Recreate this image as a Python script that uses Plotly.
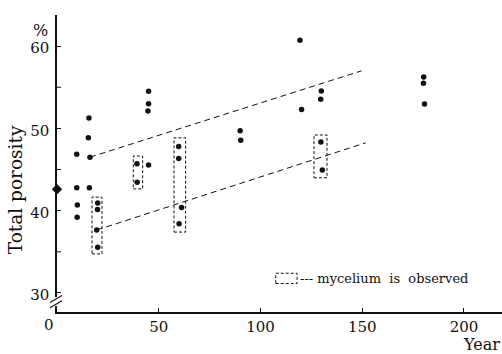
import plotly.graph_objects as go

# ---- data ----
years = [9.7, 9.7, 10.0, 9.9,
         15.7, 15.4, 16.2, 15.9,
         20.0, 19.9, 19.5, 20.0,
         39.3, 39.4,
         45.0, 45.0, 44.7, 45.0,
         59.8, 59.8, 61.2, 60.0,
         90.0, 90.3,
         119.4, 120.2,
         129.9, 129.6, 129.7, 130.4,
         180.2, 180.1, 180.6]
porosity = [46.85, 42.8, 40.7, 39.2,
            51.25, 48.85, 46.5, 42.8,
            40.95, 40.15, 37.65, 35.55,
            45.7, 43.45,
            54.5, 53.0, 52.1, 45.55,
            47.8, 46.35, 40.4, 38.4,
            49.7, 48.55,
            60.7, 52.3,
            54.55, 53.55, 48.35, 44.95,
            56.25, 55.5, 52.95]
origin_year = [0]
origin_porosity = [42.6]

upper_x = [16.2, 149.7]
upper_y = [46.5, 57.0]
lower_x = [19.5, 151.7]
lower_y = [37.65, 48.25]

# mycelium boxes: (x0, x1, y0, y1)
box_x0 = [17.2, 37.5, 57.5, 126.3]
box_x1 = [22.1, 42.1, 63.2, 132.7]
box_y0 = [34.75, 42.65, 37.4, 44.0]
box_y1 = [41.65, 46.65, 48.85, 49.2]

x_ticks = [50, 100, 150, 200]
y_ticks = [30, 40, 50, 60]
y_minor = [35, 45, 55]

FONT = "DejaVu Serif"
INK = "#111111"

fig = go.Figure()
fig.add_trace(go.Scatter(x=upper_x, y=upper_y, mode="lines",
                         line=dict(color=INK, width=1, dash="6px,4px"),
                         showlegend=False, hoverinfo="skip"))
fig.add_trace(go.Scatter(x=lower_x, y=lower_y, mode="lines",
                         line=dict(color=INK, width=1, dash="6px,4px"),
                         showlegend=False, hoverinfo="skip"))
fig.add_trace(go.Scatter(x=years, y=porosity, mode="markers",
                         marker=dict(color=INK, size=5.5),
                         showlegend=False))
fig.add_trace(go.Scatter(x=origin_year, y=origin_porosity, mode="markers",
                         marker=dict(color=INK, size=8, symbol="diamond"),
                         showlegend=False, cliponaxis=False))

shapes = []
for a, b, c, d in zip(box_x0, box_x1, box_y0, box_y1):
    shapes.append(dict(type="rect", xref="x", yref="y", x0=a, x1=b, y0=c, y1=d,
                       line=dict(color=INK, width=1, dash="3px,2px")))
# legend box
shapes.append(dict(type="rect", xref="x", yref="y", x0=107.5, x1=118.0,
                   y0=31.15, y1=32.4,
                   line=dict(color=INK, width=1, dash="3px,2px")))
# minor y ticks (inside)
for v in y_minor:
    shapes.append(dict(type="line", xref="paper", yref="y", x0=0, x1=4/445,
                       y0=v, y1=v, line=dict(color=INK, width=1)))
# axis break: white gap + two slanted strokes
shapes.append(dict(type="rect", xref="paper", yref="y", x0=-3/445, x1=3/445,
                   y0=28.4, y1=29.5, fillcolor="white", line=dict(width=0),
                   layer="above"))
shapes.append(dict(type="line", xref="paper", yref="y", x0=-7/445, x1=5/445,
                   y0=28.2, y1=29.05, line=dict(color=INK, width=1.2)))
shapes.append(dict(type="line", xref="paper", yref="y", x0=-7/445, x1=5/445,
                   y0=28.85, y1=29.7, line=dict(color=INK, width=1.2)))

annotations = [
    dict(text="Total porosity", x=0, y=0.41, xref="paper", yref="paper",
         xanchor="center", yanchor="middle", xshift=-42, textangle=-90,
         showarrow=False, font=dict(family=FONT, size=18.5, color=INK)),
    dict(text="%", x=0, y=1, xref="paper", yref="paper", xanchor="center",
         yanchor="middle", xshift=-17, yshift=-15, showarrow=False,
         font=dict(family=FONT, size=16, color=INK)),
    dict(text="0", x=0, y=0, xref="x", yref="paper", xanchor="center",
         yanchor="top", xshift=-8, yshift=-2, showarrow=False,
         font=dict(family=FONT, size=15, color=INK)),
    dict(text="Year", x=1, y=0, xref="paper", yref="paper", xanchor="right",
         yanchor="top", xshift=0, yshift=-21, showarrow=False,
         font=dict(family=FONT, size=16, color=INK)),
    dict(text="--- mycelium  is  observed", x=118.3, y=31.8, xref="x", yref="y",
         xanchor="left", yanchor="middle", showarrow=False,
         font=dict(family=FONT, size=13, color=INK)),
]

fig.update_layout(
    width=502, height=354, autosize=False,
    margin=dict(l=57, r=0, t=15, b=42),
    paper_bgcolor="white", plot_bgcolor="white",
    font=dict(family=FONT, size=15, color=INK),
    shapes=shapes, annotations=annotations,
    xaxis=dict(range=[0, 218.7], showgrid=False, zeroline=False,
               showline=True, linecolor=INK, linewidth=1.5,
               tickvals=x_ticks, ticks="inside", ticklen=4, tickcolor=INK,
               tickfont=dict(family=FONT, size=15, color=INK)),
    yaxis=dict(range=[27.69, 63.78], showgrid=False, zeroline=False,
               showline=True, linecolor=INK, linewidth=1.5,
               tickvals=y_ticks, ticks="inside", ticklen=4, tickcolor=INK,
               ticklabelshift=2, ticklabelstandoff=3,
               tickfont=dict(family=FONT, size=15, color=INK)),
)

fig.write_html("out.html")
